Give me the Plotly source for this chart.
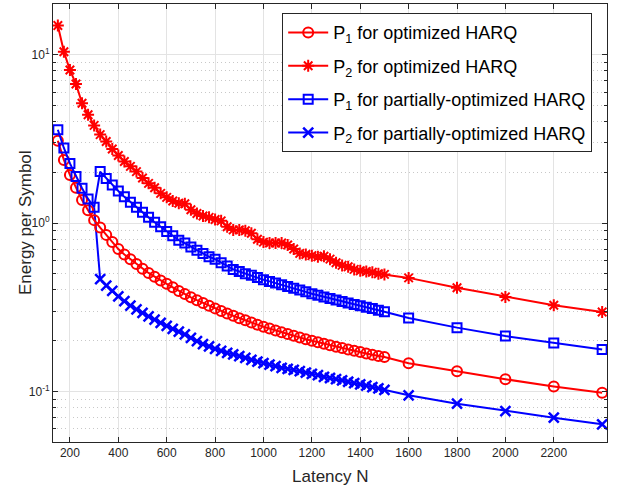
import plotly.graph_objects as go

N = [150, 175, 200, 225, 250, 275, 300, 325, 350, 375, 400, 425, 450, 475, 500,
     525, 550, 575, 600, 625, 650, 675, 700, 725, 750, 775, 800, 825, 850, 875,
     900, 925, 950, 975, 1000, 1025, 1050, 1075, 1100, 1125, 1150, 1175, 1200,
     1225, 1250, 1275, 1300, 1325, 1350, 1375, 1400, 1425, 1450, 1475, 1500,
     1600, 1800, 2000, 2200, 2400]

p1_opt = [3.08, 2.37, 1.93, 1.62, 1.37, 1.19, 1.04, 0.94, 0.85, 0.77, 0.70, 0.65,
          0.61, 0.57, 0.535, 0.505, 0.48, 0.455, 0.435, 0.415, 0.395, 0.378, 0.362,
          0.348, 0.335, 0.322, 0.311, 0.300, 0.290, 0.281, 0.272, 0.264, 0.256,
          0.249, 0.242, 0.236, 0.230, 0.224, 0.219, 0.214, 0.209, 0.204, 0.200,
          0.196, 0.192, 0.188, 0.184, 0.181, 0.177, 0.174, 0.171, 0.168, 0.165,
          0.162, 0.160, 0.147, 0.1315, 0.118, 0.107, 0.098]

p2_opt = [14.9, 10.4, 8.1, 6.7, 5.15, 4.4, 3.8, 3.35, 3.05, 2.75, 2.52, 2.32, 2.17,
          2.02, 1.85, 1.72, 1.62, 1.50, 1.42, 1.35, 1.31, 1.30, 1.20, 1.14, 1.10,
          1.08, 1.05, 1.03, 0.95, 0.91, 0.91, 0.90, 0.87, 0.80, 0.77, 0.76, 0.76,
          0.76, 0.74, 0.70, 0.66, 0.65, 0.64, 0.63, 0.635, 0.61, 0.58, 0.56, 0.55,
          0.53, 0.52, 0.515, 0.51, 0.50, 0.495, 0.472, 0.412, 0.364, 0.325, 0.296]

p1_part = [3.58, 2.79, 2.26, 1.89, 1.61, 1.39, 1.24, 2.02, 1.84, 1.68, 1.55, 1.43,
           1.33, 1.24, 1.16, 1.08, 1.01, 0.95, 0.89, 0.84, 0.79, 0.76, 0.72, 0.69,
           0.66, 0.63, 0.61, 0.58, 0.555, 0.53, 0.515, 0.50, 0.49, 0.475, 0.46,
           0.45, 0.44, 0.43, 0.42, 0.41, 0.40, 0.39, 0.38, 0.372, 0.364, 0.356,
           0.349, 0.342, 0.335, 0.328, 0.322, 0.316, 0.31, 0.303, 0.297, 0.273,
           0.239, 0.213, 0.194, 0.177]

# P2 of partially-optimized HARQ, defined from N = 325 on
N2 = N[7:]
p2_part = [0.464, 0.425, 0.395, 0.367, 0.343, 0.323, 0.307, 0.292, 0.279, 0.267,
           0.255, 0.245, 0.235, 0.226, 0.218, 0.208, 0.199, 0.191, 0.185, 0.179,
           0.174, 0.169, 0.166, 0.162, 0.158, 0.154, 0.150, 0.147, 0.144, 0.141,
           0.138, 0.136, 0.134, 0.132, 0.129, 0.127, 0.125, 0.122, 0.120, 0.118,
           0.116, 0.114, 0.112, 0.110, 0.108, 0.106, 0.104, 0.102, 0.0947, 0.0845,
           0.0764, 0.0697, 0.0637]

x_ticks = [200, 400, 600, 800, 1000, 1200, 1400, 1600, 1800, 2000, 2200]
y_ticks = [0.1, 1, 10]
y_ticktext = ["10<sup>-1</sup>", "10<sup>0</sup>", "10<sup>1</sup>"]
y_minor = [0.05, 0.06, 0.07, 0.08, 0.09, 0.2, 0.3, 0.4, 0.5, 0.6, 0.7, 0.8, 0.9,
           2, 3, 4, 5, 6, 7, 8, 9, 20]

RED = "#ff0000"
BLUE = "#0000ff"
FONT = "Liberation Sans, Arial, sans-serif"
AX = "#262626"

fig = go.Figure()

# connector from last common point of partial scheme to P2 branch
fig.add_trace(go.Scatter(x=[N[6], N2[0]], y=[p1_part[6], p2_part[0]], mode="lines",
                         line=dict(color=BLUE, width=2), showlegend=False,
                         hoverinfo="skip"))

fig.add_trace(go.Scatter(x=N, y=p1_opt, mode="lines+markers",
                         name="P<sub>1</sub> for optimized HARQ", legendgroup="a",
                         line=dict(color=RED, width=2),
                         marker=dict(symbol="circle-open", size=10,
                                     line=dict(width=2, color=RED), color=RED)))
fig.add_trace(go.Scatter(x=N, y=p2_opt, mode="lines+markers",
                         name="P<sub>2</sub> for optimized HARQ", legendgroup="b",
                         line=dict(color=RED, width=2),
                         marker=dict(symbol="asterisk-open", size=10,
                                     line=dict(width=2, color=RED), color=RED)))
fig.add_trace(go.Scatter(x=N, y=p1_part, mode="lines+markers",
                         name="P<sub>1</sub> for partially-optimized HARQ",
                         legendgroup="c",
                         line=dict(color=BLUE, width=2),
                         marker=dict(symbol="square-open", size=9,
                                     line=dict(width=2, color=BLUE), color=BLUE)))
fig.add_trace(go.Scatter(x=N2, y=p2_part, mode="lines+markers",
                         name="P<sub>2</sub> for partially-optimized HARQ",
                         legendgroup="d",
                         line=dict(color=BLUE, width=2),
                         marker=dict(symbol="x-thin-open", size=10,
                                     line=dict(width=2.5, color=BLUE), color=BLUE)))

fig.update_layout(
    width=620, height=489,
    margin=dict(l=53, r=13, t=4, b=47),
    paper_bgcolor="white", plot_bgcolor="white",
    font=dict(family=FONT, color=AX, size=12),
    showlegend=True,
    legend=dict(x=0.4137, y=0.979, xanchor="left", yanchor="top",
                bgcolor="white", bordercolor=AX, borderwidth=1,
                font=dict(family=FONT, size=18, color="#000000"),
                tracegroupgap=7, itemwidth=40),
    xaxis=dict(range=[130, 2420], tickvals=x_ticks, automargin=False,
               showgrid=True, gridcolor="#e3e3e3", gridwidth=1,
               ticks="inside", ticklen=5, tickcolor=AX,
               showline=True, linecolor=AX, linewidth=1, mirror="ticks",
               zeroline=False, tickfont=dict(size=12, color=AX)),
    yaxis=dict(type="log", range=[-1.301, 1.301], tickvals=y_ticks,
               ticktext=y_ticktext, automargin=False,
               showgrid=True, gridcolor="#e3e3e3", gridwidth=1,
               ticks="inside", ticklen=5, tickcolor=AX,
               showline=True, linecolor=AX, linewidth=1, mirror="ticks",
               zeroline=False, tickfont=dict(size=12, color=AX),
               minor=dict(tickvals=y_minor, showgrid=True, griddash="1px,3px",
                          gridcolor="#c8c8c8", ticks="inside", ticklen=3,
                          tickcolor=AX)),
    annotations=[
        dict(text="Latency N", xref="paper", yref="paper", x=0.5, y=0,
             xanchor="center", yanchor="middle", yshift=-34, showarrow=False,
             font=dict(size=17, color=AX, family=FONT)),
        dict(text="Energy per Symbol", xref="paper", yref="paper", x=0, y=0.5,
             xanchor="center", yanchor="middle", xshift=-28, textangle=-90,
             showarrow=False, font=dict(size=17, color=AX, family=FONT)),
    ],
)

fig.write_html("out.html", config={"displayModeBar": False},
               post_script="document.body.style.margin='0';document.body.style.padding='0';")
